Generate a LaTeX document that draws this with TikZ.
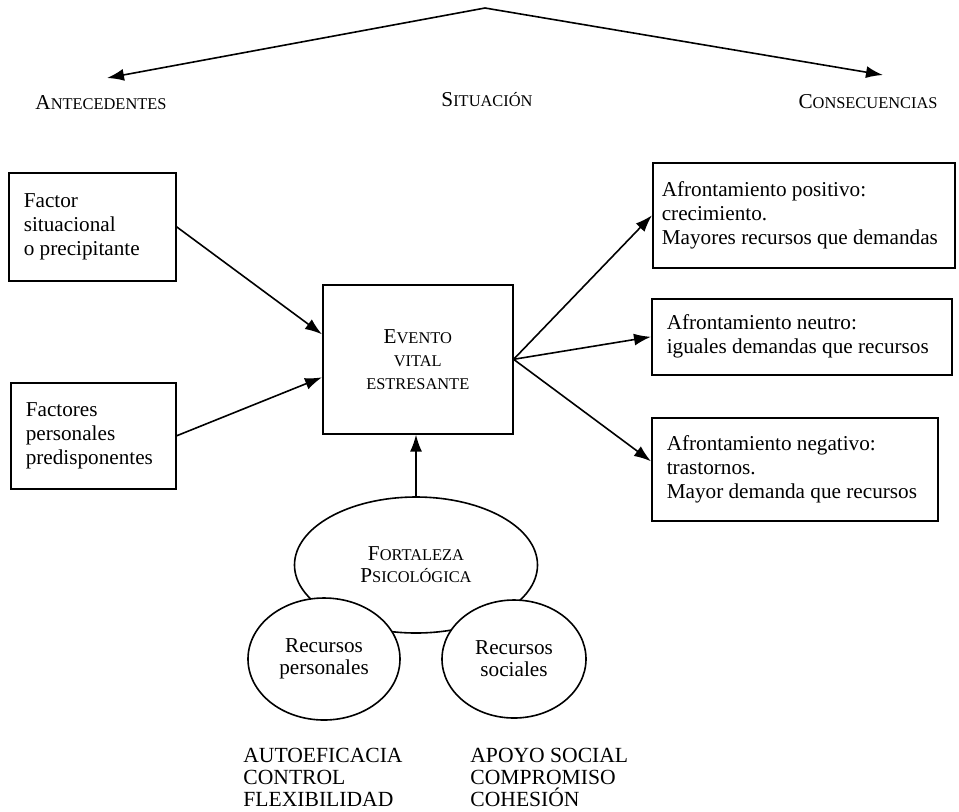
\documentclass[tikz,border=0pt]{standalone}
\usepackage{fontspec}
\setmainfont{Liberation Serif}
\usetikzlibrary{positioning,
                arrows.meta,
                shapes.geometric}
\newcommand{\fakesc}[2]{{\fontsize{10.6}{12}\selectfont #1}{\fontsize{8.2}{12}\selectfont #2}}

\begin{document}
\begin{tikzpicture}[x=0.5pt,y=-0.5pt]

\tikzset{
boxunit/.style={
draw=black,
line width=0.8pt,
anchor=north west,
align=flush left,
inner xsep=7.5pt,
font=\fontsize{10.6}{12}\selectfont
},
ellipseunit/.style={
draw=black,
fill=white,
line width=0.8pt,
ellipse,
inner sep=0pt,
align=center,
font=\fontsize{10.6}{11}\selectfont
},
headlabel/.style={
align=center
},
listlabel/.style={
anchor=north west,
align=left,
inner sep=0pt,
font=\fontsize{10.8}{11}\selectfont
},
arrowline/.style={
line width=0.8pt,
-{Latex[length=8.5pt,width=6pt]}
}
}

\useasboundingbox (0,0) rectangle (959,811);

%--------------------------------------------------
% HEADERS
%--------------------------------------------------

\coordinate (apex) at (485,8);
\coordinate (antetip) at (107,78);
\coordinate (consectip) at (883,75);

\draw[arrowline] (apex) -- (antetip);
\draw[arrowline] (apex) -- (consectip);

\node[headlabel] (antelabel) at (101,103) {\fakesc{A}{NTECEDENTES}};
\node[headlabel] (sitlabel) at (487,100) {\fakesc{S}{ITUACIÓN}};
\node[headlabel] (consectlabel) at (868,102) {\fakesc{C}{ONSECUENCIAS}};

%--------------------------------------------------
% ANTECEDENTES
%--------------------------------------------------

\node[boxunit,minimum height=54pt,text width=68.5pt] (sitfactor) at (8,172)
{Factor\\situacional\\o precipitante};

\node[boxunit,minimum height=53pt,text width=67.5pt] (persfactor) at (10,382)
{Factores\\personales\\predisponentes};

%--------------------------------------------------
% SITUACION
%--------------------------------------------------

\node[boxunit,align=center,minimum width=95pt,minimum height=74.5pt,
      font=\fontsize{10.6}{11.5}\selectfont] (evento) at (322,284)
{\fakesc{E}{VENTO}\\\fakesc{}{VITAL}\\\fakesc{}{ESTRESANTE}};

\node[ellipseunit,minimum width=121.5pt,minimum height=68pt] (fortaleza) at (416,565)
{\fakesc{F}{ORTALEZA}\\\fakesc{P}{SICOLÓGICA}};

\node[ellipseunit,minimum width=76pt,minimum height=61pt] (recpers) at (324,659)
{Recursos\\personales};

\node[ellipseunit,minimum width=72pt,minimum height=59pt] (recsoc) at (514,659)
{Recursos\\sociales};

\node[listlabel] (perslist) at (243,748)
{AUTOEFICACIA\\CONTROL\\FLEXIBILIDAD};

\node[listlabel] (soclist) at (470,748)
{APOYO SOCIAL\\COMPROMISO\\COHESIÓN};

%--------------------------------------------------
% CONSECUENCIAS
%--------------------------------------------------

\node[boxunit,minimum height=52.5pt,text width=142pt,inner xsep=4.5pt] (posafr) at (652,162)
{Afrontamiento positivo:\\crecimiento.\\\mbox{Mayores recursos que demandas}};

\node[boxunit,minimum height=38pt,text width=135pt] (neuafr) at (651,298)
{Afrontamiento neutro:\\iguales demandas que recursos};

\node[boxunit,minimum height=51.5pt,text width=128pt] (negafr) at (651,417)
{Afrontamiento negativo:\\trastornos.\\Mayor demanda que recursos};

%--------------------------------------------------
% ARROWS
%--------------------------------------------------

\draw[arrowline] (sitfactor.east) -- ([yshift=12.5pt]evento.west);
\draw[arrowline] (persfactor.east) -- ([yshift=-9pt]evento.west);
\draw[arrowline] (fortaleza.north) -- (fortaleza.north |- evento.south);

\draw[arrowline] (evento.east) -- (posafr.west);
\draw[arrowline] (evento.east) -- (neuafr.west);
\draw[arrowline] (evento.east) -- ([yshift=4pt]negafr.west);

\end{tikzpicture}
\end{document}
